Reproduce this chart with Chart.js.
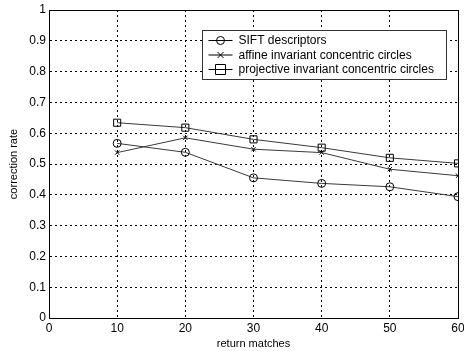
<!DOCTYPE html>
<html>
<head>
<meta charset="utf-8">
<script src="https://cdn.jsdelivr.net/npm/chart.js@4/dist/chart.umd.min.js"></script>
<style>
  html, body { margin: 0; padding: 0; background: #fff; }
  #wrap { width: 464px; height: 351px; }
</style>
</head>
<body>
<div id="wrap"><canvas id="chart" width="464" height="351"></canvas></div>
<script>
// values
const returnMatches = [10, 20, 30, 40, 50, 60];
const siftRate = [0.567, 0.538, 0.455, 0.437, 0.426, 0.394];
const affineRate = [0.537, 0.585, 0.548, 0.537, 0.483, 0.462];
const projectiveRate = [0.634, 0.618, 0.580, 0.553, 0.520, 0.502];
const seriesNames = ["SIFT descriptors", "affine invariant concentric circles", "projective invariant concentric circles"];

const FONT = "'Liberation Sans', Arial, sans-serif";

function pts(vals) {
  return returnMatches.map((x, i) => ({ x: x, y: vals[i] }));
}

// draw a MATLAB-ish marker
function marker(ctx, style, x, y) {
  ctx.beginPath();
  if (style === "circle") {
    ctx.arc(x, y, 4, 0, Math.PI * 2);
  } else if (style === "rect") {
    ctx.rect(x - 5, y - 5, 10, 10);
  } else {
    ctx.moveTo(x - 3, y - 3); ctx.lineTo(x + 3, y + 3);
    ctx.moveTo(x + 3, y - 3); ctx.lineTo(x - 3, y + 3);
  }
  ctx.stroke();
}

// axes box + legend drawn inside the plot
const boxLegend = {
  id: "boxLegend",
  afterDraw(chart) {
    const ctx = chart.ctx;
    const a = chart.chartArea;
    ctx.save();
    ctx.strokeStyle = "#000";
    ctx.lineWidth = 1;
    ctx.setLineDash([]);
    ctx.strokeRect(Math.round(a.left) + 0.5, Math.round(a.top) + 0.5,
      Math.round(a.right - a.left), Math.round(a.bottom - a.top));

    // legend
    const lx = Math.round(a.left) + 153.5, ly = Math.round(a.top) + 20.5;
    ctx.fillStyle = "#fff";
    ctx.fillRect(lx, ly, 244, 49);
    ctx.strokeStyle = "#333";
    ctx.strokeRect(lx, ly, 244, 49);
    ctx.font = "12px " + FONT;
    ctx.textBaseline = "middle";
    chart.data.datasets.forEach((ds, i) => {
      const y = ly + 10 + i * 14.5;
      ctx.strokeStyle = "#000";
      ctx.beginPath();
      ctx.moveTo(lx + 6, y); ctx.lineTo(lx + 30, y);
      ctx.stroke();
      marker(ctx, ds.pointStyle, lx + 18, y);
      ctx.fillStyle = "#000";
      ctx.fillText(ds.label, lx + 36, y + 0.5);
    });
    ctx.restore();
  }
};

function ds(label, vals, style, radius) {
  return {
    label: label,
    data: pts(vals),
    showLine: true,
    borderColor: "#3a3a3a",
    borderWidth: 1,
    pointStyle: style,
    pointRadius: radius,
    pointBorderColor: "#000",
    pointBackgroundColor: "rgba(0,0,0,0)",
    pointBorderWidth: 1
  };
}

new Chart(document.getElementById("chart"), {
  type: "scatter",
  data: {
    datasets: [
      ds(seriesNames[0], siftRate, "circle", 4),
      ds(seriesNames[1], affineRate, "crossRot", 3),
      ds(seriesNames[2], projectiveRate, "rect", 5)
    ]
  },
  options: {
    responsive: false,
    animation: false,
    layout: { padding: { top: 10, right: 3, left: 0, bottom: 0 } },
    plugins: { legend: { display: false }, tooltip: { enabled: false } },
    scales: {
      x: {
        type: "linear",
        min: 0, max: 60,
        afterFit(s) { s.height = 33; s.paddingLeft = 0; s.paddingRight = 0; },
        ticks: { stepSize: 10, color: "#000", font: { family: FONT, size: 12 }, padding: 3, maxRotation: 0 },
        grid: { color: "#000", drawTicks: false, lineWidth: 1 },
        border: { display: true, color: "#000", dash: [2, 3] },
        title: { display: true, text: "return matches", color: "#000", font: { family: FONT, size: 11 }, padding: { top: 0, bottom: 0 } }
      },
      y: {
        min: 0, max: 1,
        afterFit(s) { s.width = 49; s.paddingTop = 0; s.paddingBottom = 0; },
        ticks: {
          stepSize: 0.1, color: "#000", font: { family: FONT, size: 12 }, padding: 3,
          callback: v => String(Math.round(v * 10) / 10)
        },
        grid: { color: "#000", drawTicks: false, lineWidth: 1 },
        border: { display: true, color: "#000", dash: [2, 3] },
        title: { display: true, text: "correction rate", color: "#000", font: { family: FONT, size: 11 }, padding: { top: 7, bottom: 0 } }
      }
    }
  },
  plugins: [boxLegend]
});
</script>
</body>
</html>
